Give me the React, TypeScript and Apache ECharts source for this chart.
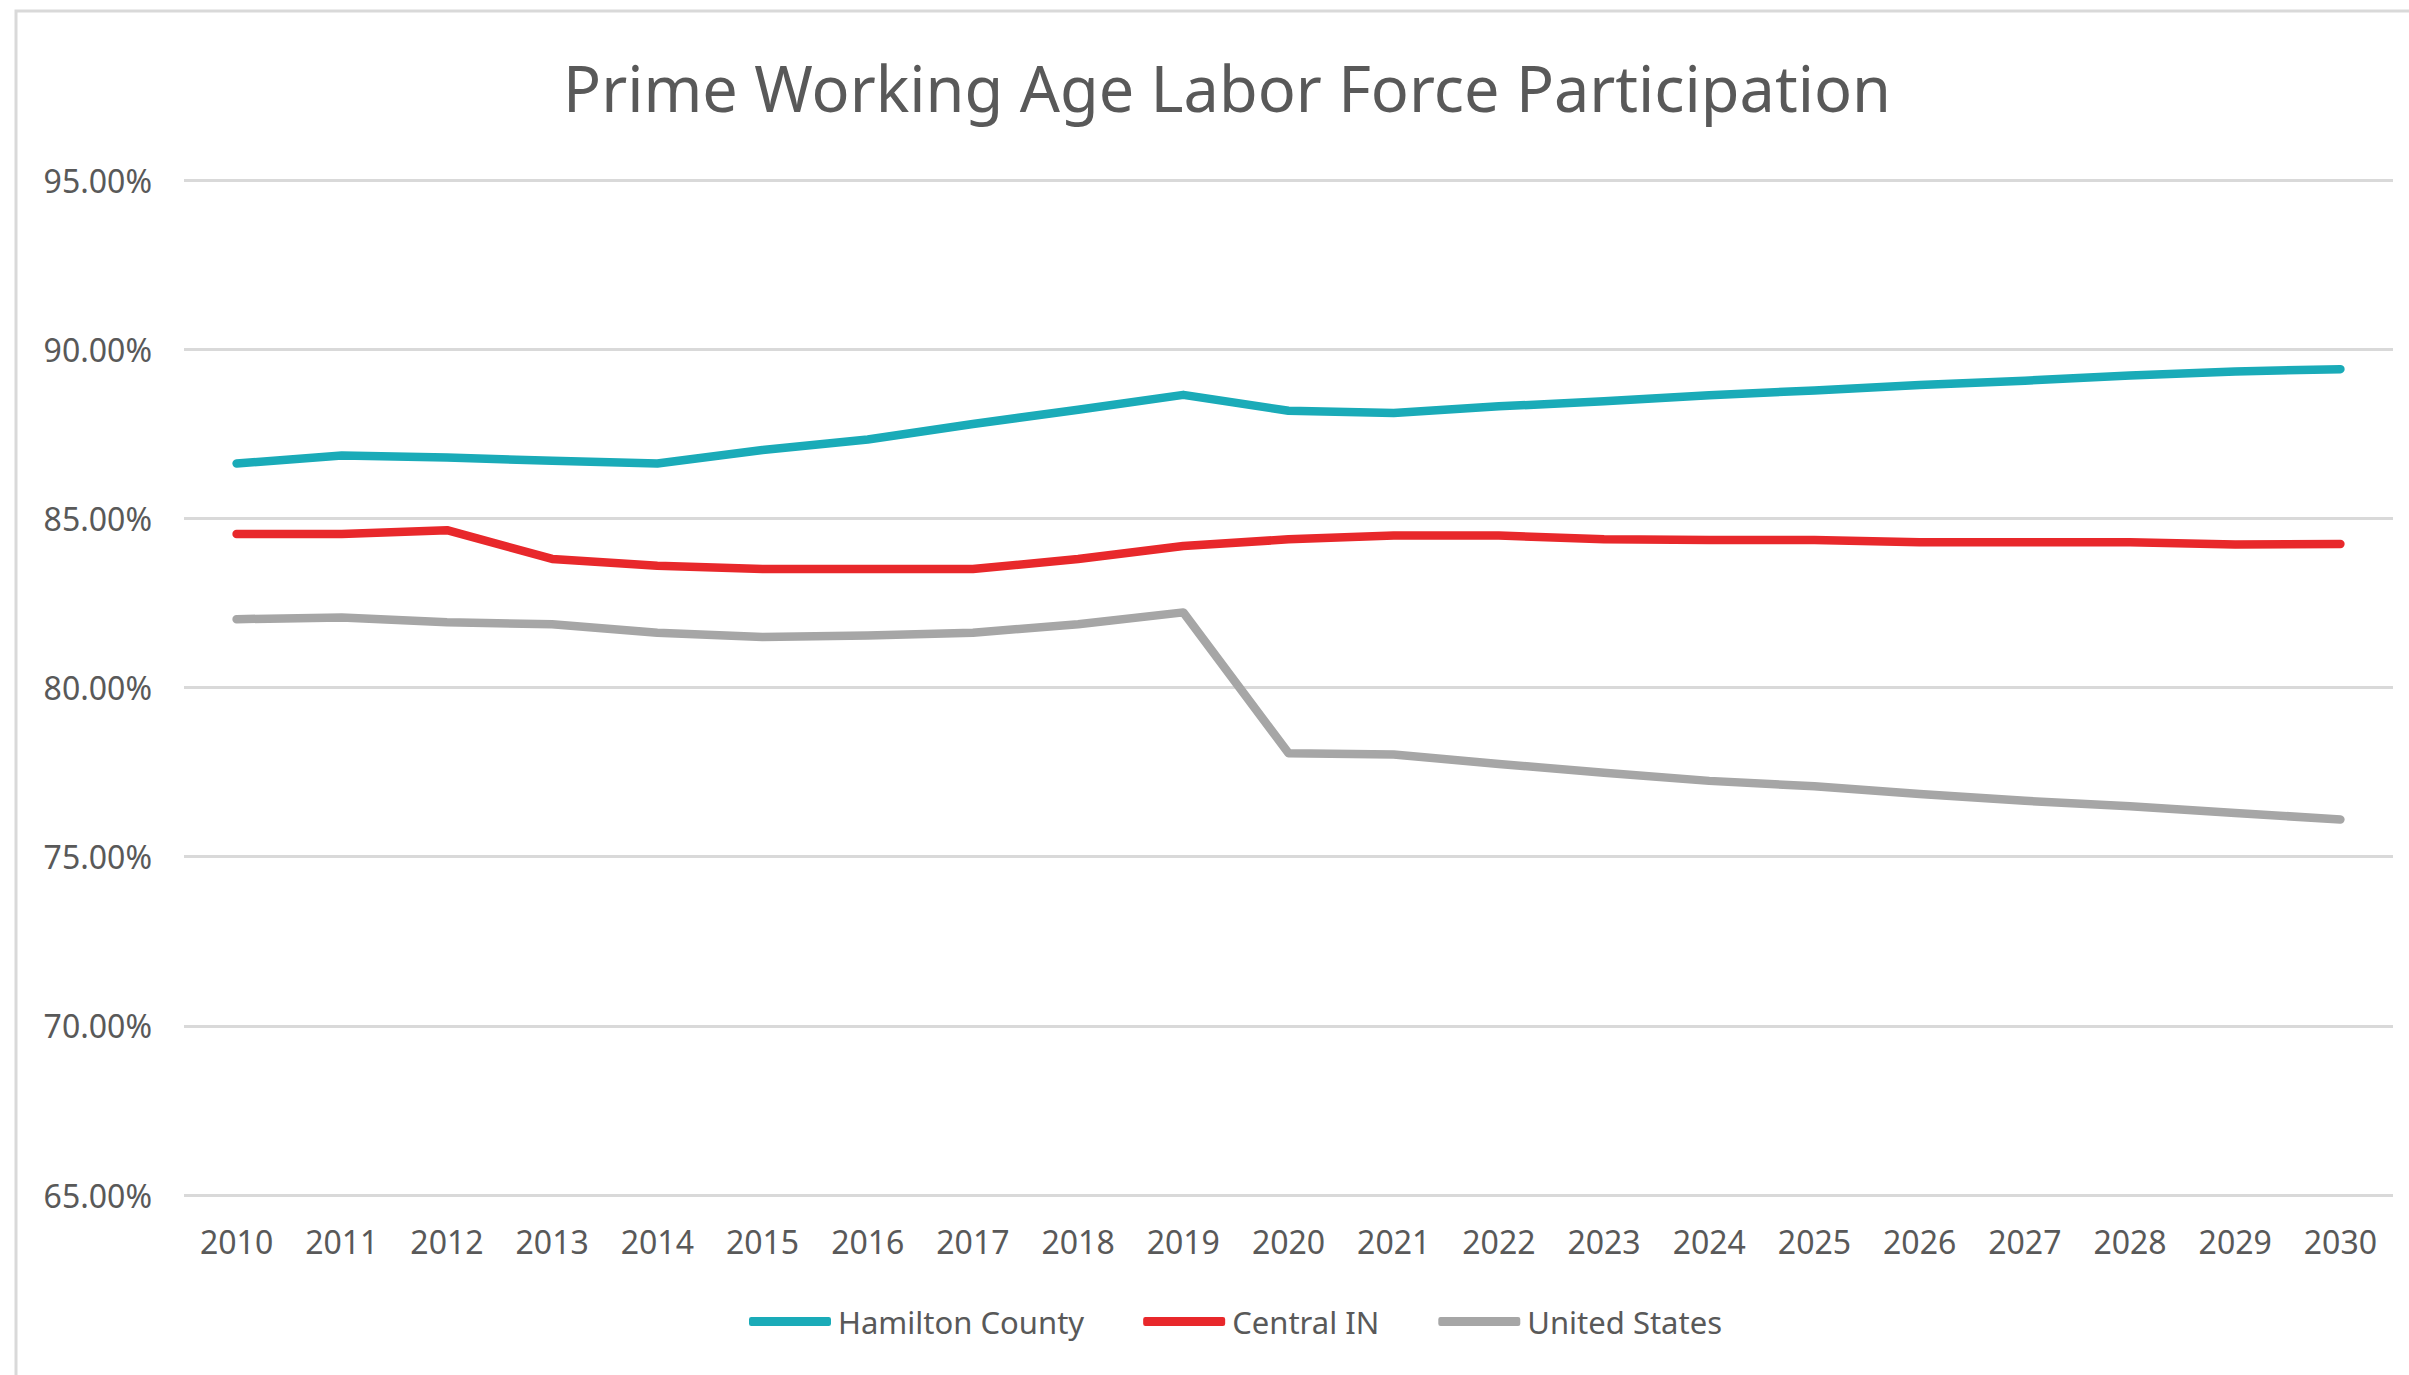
import React, { useEffect, useRef } from "react";
import * as echarts from "echarts";

const years = ["2010","2011","2012","2013","2014","2015","2016","2017","2018","2019","2020","2021","2022","2023","2024","2025","2026","2027","2028","2029","2030"];
const hamilton = [86.62, 86.86, 86.80, 86.70, 86.62, 87.02, 87.33, 87.79, 88.21, 88.65, 88.18, 88.11, 88.31, 88.46, 88.64, 88.78, 88.94, 89.07, 89.22, 89.34, 89.41];
const centralIN = [84.54, 84.54, 84.65, 83.80, 83.60, 83.50, 83.50, 83.50, 83.80, 84.18, 84.38, 84.49, 84.49, 84.38, 84.36, 84.36, 84.29, 84.29, 84.29, 84.23, 84.24];
const unitedStates = [82.02, 82.07, 81.93, 81.87, 81.62, 81.49, 81.54, 81.62, 81.87, 82.22, 78.06, 78.02, 77.74, 77.48, 77.24, 77.08, 76.85, 76.65, 76.49, 76.29, 76.10];
const seriesNames = ["Hamilton County", "Central IN", "United States"];
const titleText = "Prime Working Age Labor Force Participation";

export default function App() {
  const ref = useRef<HTMLDivElement>(null);
  useEffect(() => {
    if (!ref.current) return;
    const chart = echarts.init(ref.current, null, { renderer: "svg" });
    const font = "'Noto Sans', sans-serif";
    const textColor = "#595959";
    const colors = ["#1aabb8", "#e8282b", "#a6a6a6"];
    const data = [hamilton, centralIN, unitedStates];
    chart.setOption({
      animation: false,
      backgroundColor: "#ffffff",
      textStyle: { fontFamily: font },
      graphic: [
        {
          type: "rect",
          shape: { x: 16, y: 11, width: 2600, height: 1600 },
          style: { fill: "none", stroke: "#d9d9d9", lineWidth: 3 },
          silent: true,
        },
        {
          type: "text",
          x: 1227,
          y: 87,
          style: {
            text: titleText,
            fill: textColor,
            font: `63px ${font}`,
            textAlign: "center",
            textVerticalAlign: "middle",
          },
        },
      ],
      legend: {
        left: 744,
        top: 1301,
        itemWidth: 82,
        itemHeight: 9,
        itemGap: 59,
        icon: "roundRect",
        textStyle: { color: textColor, fontSize: 31, fontFamily: font, padding: [0, 0, 0, 2] },
        data: seriesNames,
      },
      grid: { left: 184, right: 16, top: 180, bottom: 180, containLabel: false },
      xAxis: {
        type: "category",
        data: years,
        boundaryGap: true,
        axisLine: { show: false },
        axisTick: { show: false },
        axisLabel: { color: textColor, fontSize: 32, fontFamily: font, margin: 30, interval: 0 },
      },
      yAxis: {
        type: "value",
        min: 65,
        max: 95,
        interval: 5,
        axisLine: { show: false },
        axisTick: { show: false },
        axisLabel: {
          color: textColor,
          fontSize: 32,
          fontFamily: font,
          margin: 32,
          formatter: (v: number) => v.toFixed(2) + "%",
        },
        splitLine: { show: true, lineStyle: { color: "#d9d9d9", width: 3 } },
      },
      series: seriesNames.map((name, i) => ({
        name,
        type: "line",
        data: data[i],
        symbol: "none",
        smooth: false,
        itemStyle: { color: colors[i] },
        lineStyle: { color: colors[i], width: 8.5, cap: "round", join: "round" },
      })),
    });
    return () => chart.dispose();
  }, []);
  return (
    <div
      ref={ref}
      style={{ position: "fixed", left: 0, top: 0, width: 2409, height: 1375, background: "#fff" }}
    />
  );
}
